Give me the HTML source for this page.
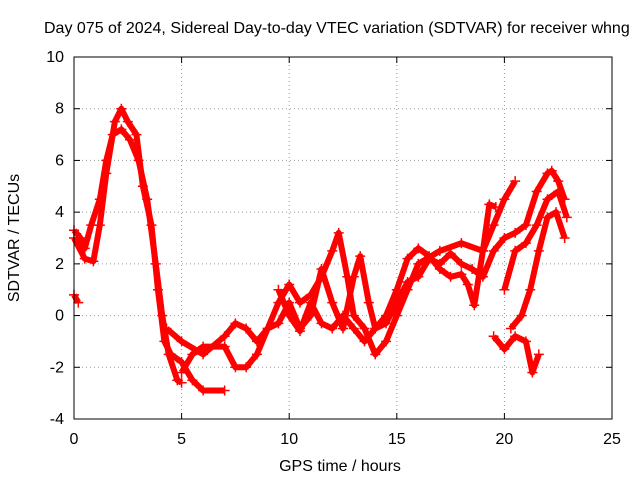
<!DOCTYPE html>
<html><head><meta charset="utf-8"><style>
body{margin:0;background:#fff;}
svg text{font-family:"Liberation Sans",sans-serif;font-size:16px;fill:#000;}
</style></head><body>
<svg id="chart" width="640" height="480" viewBox="0 0 640 480" xmlns="http://www.w3.org/2000/svg">
<text x="44" y="33">Day 075 of 2024, Sidereal Day-to-day VTEC variation (SDTVAR) for receiver whng</text>
<text transform="translate(19,238) rotate(-90)" text-anchor="middle">SDTVAR / TECUs</text>
<text x="340" y="471" text-anchor="middle">GPS time / hours</text>
<g id="grid"></g><g id="series"></g><g id="axes"></g>
</svg>
<script>
const xTicks=[0,5,10,15,20,25];
const yTicks=[-4,-2,0,2,4,6,8,10];
const traceAx=[0,0.3,0.5,0.8,1.2,1.5,1.8,2.2,2.6,3.0,3.4,3.8,4.1,4.4,4.8,5.0];
const traceAy=[3.3,3.0,2.6,3.5,4.5,6,7,7.2,6.8,6,4.5,2,0,-1.5,-2.5,-2.6];
const traceBx=[0,0.5,0.9,1.2,1.5,1.9,2.2,2.5,2.9,3.2,3.6,3.9,4.2,4.5,5,5.5,6,7];
const traceBy=[3.0,2.2,2.1,3.5,5.5,7.5,8.0,7.5,7.0,5,3.5,1,-1,-1.5,-1.8,-2.5,-2.9,-2.9];
const traceCx=[4.3,5,6,7,7.5,8,8.5,9,9.5,10,10.5,11,11.5,12,12.3,12.7,13,13.5,14,14.5,15,15.5,16,17,18,19,19.5,20,20.5];
const traceCy=[-0.5,-1,-1.5,-0.8,-0.3,-0.5,-1,-0.5,0.5,1.2,0.5,0.8,1.5,2.5,3.2,1.5,0,-0.5,-1.5,-1,0,1,2,2.5,2.8,2.5,3.5,4.5,5.2];
const traceDx=[5,5.5,6,7,7.5,8,8.5,9,9.5,10,10.5,11,11.5,12,12.5,13,13.3,13.7,14,14.5,15,15.5,16,16.5,17,17.5,18,18.5,19,19.5,20,20.5,21,21.5,22,22.2,22.5,22.8];
const traceDy=[-2.2,-1.5,-1.2,-1.2,-2,-2,-1.5,-0.5,-0.3,0.5,-0.5,0,1.8,0.5,-0.5,1.5,2.3,0.5,-0.5,-0.3,0.5,1.3,1.5,2.2,2.0,2.4,2,1.8,1.5,2.5,3,3.2,3.5,4.8,5.5,5.6,5.2,4.5];
const traceEx=[9.5,10,10.5,11,11.5,12,12.5,13,13.5,14,14.5,15,15.5,16,16.5,17,17.5,18,18.3,18.6,19,19.3,19.6];
const traceEy=[1,0,-0.6,0.5,-0.3,-0.5,0,-0.5,-1,-0.5,0,1,2.2,2.6,2.3,1.8,1.5,1.6,1.2,0.4,2.5,4.3,4.2];
const traceFx=[19.5,20,20.5,21,21.3,21.6];
const traceFy=[-0.8,-1.3,-0.8,-1,-2.2,-1.5];
const traceGx=[20.3,20.8,21.2,21.6,22,22.4,22.8];
const traceGy=[-0.5,0,1,2.5,3.8,4,3.0];
const traceHx=[20,20.5,21,21.5,22,22.5,22.9];
const traceHy=[1,2.5,2.8,3.5,4.5,4.8,3.8];
const traceIx=[0,0.2];
const traceIy=[0.8,0.5];
const traces=[[traceAx,traceAy],[traceBx,traceBy],[traceCx,traceCy],[traceDx,traceDy],[traceEx,traceEy],[traceFx,traceFy],[traceGx,traceGy],[traceHx,traceHy],[traceIx,traceIy]];
const X0=74,X1=612,Y0=419,Y1=57;
const sx=v=>X0+(v-0)/(25-0)*(X1-X0);
const sy=v=>Y0-(v+4)/(14)*(Y0-Y1);
const NS="http://www.w3.org/2000/svg";
const mk=(t,a,p)=>{const e=document.createElementNS(NS,t);for(const k in a)e.setAttribute(k,a[k]);p.appendChild(e);return e;};
const grid=document.getElementById('grid'),axes=document.getElementById('axes'),ser=document.getElementById('series');
xTicks.forEach(t=>{
 const x=sx(t);
 if(t>0&&t<25){const g=mk('line',{x1:x,x2:x,y1:Y1,y2:Y0,stroke:'#999','stroke-dasharray':'1,3'},grid);
 
 }
 mk('line',{x1:x,x2:x,y1:Y0,y2:Y0-6,stroke:'#000'},axes);
 mk('line',{x1:x,x2:x,y1:Y1,y2:Y1+6,stroke:'#000'},axes);
 const l=mk('text',{x:x,y:Y0+25,'text-anchor':'middle'},axes);l.textContent=t;
 
 
});
yTicks.forEach(t=>{
 const y=sy(t);
 if(t>-4&&t<10){const g=mk('line',{x1:X0,x2:X1,y1:y,y2:y,stroke:'#999','stroke-dasharray':'1,3'},grid);
 
 }
 mk('line',{x1:X0,x2:X0+6,y1:y,y2:y,stroke:'#000'},axes);
 mk('line',{x1:X1,x2:X1-6,y1:y,y2:y,stroke:'#000'},axes);
 const l=mk('text',{x:X0-10,y:y+5,'text-anchor':'end'},axes);l.textContent=t;
 
 
});
const b=mk('rect',{x:X0,y:Y1,width:X1-X0,height:Y0-Y1,fill:'none',stroke:'#000'},axes);


traces.forEach(([xs,ys])=>{
 const p=mk('polyline',{points:xs.map((x,i)=>sx(x)+','+sy(ys[i])).join(' '),fill:'none',stroke:'#f00','stroke-width':6,'stroke-linejoin':'round'},ser);
 
 
 xs.forEach((x,i)=>{
  const cx=sx(x),cy=sy(ys[i]);
  const m=mk('path',{d:`M${cx-5},${cy}H${cx+5}M${cx},${cy-5}V${cy+5}`,stroke:'#f00','stroke-width':1.5},ser);
  
  
 });
});
</script>
</body></html>
